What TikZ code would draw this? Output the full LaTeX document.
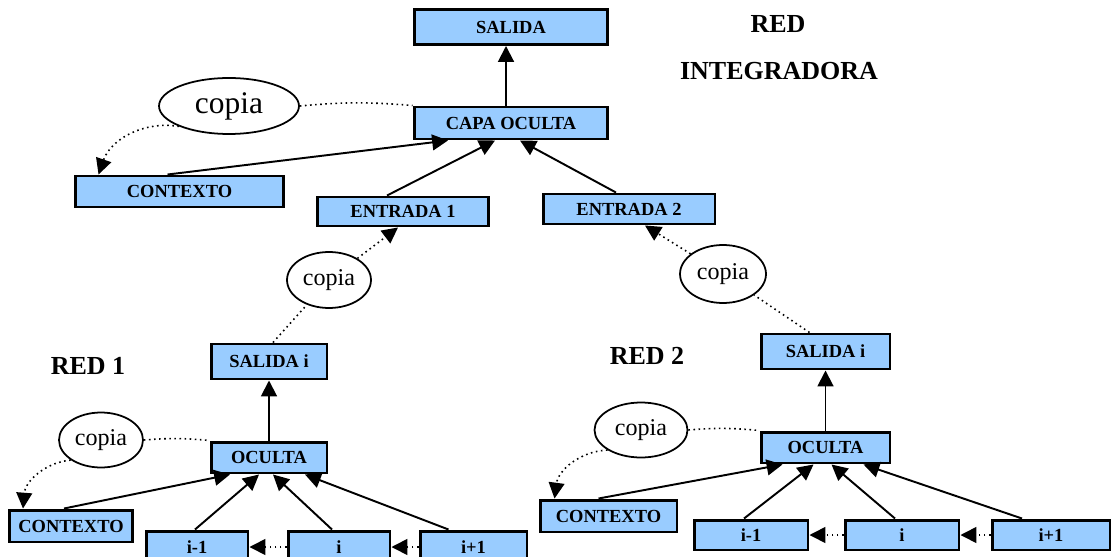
\documentclass[tikz,border=0pt]{standalone}
\usepackage{fontspec}
\setmainfont{Liberation Serif}
\usetikzlibrary{arrows.meta,calc,shapes.geometric}
\definecolor{azul}{HTML}{99CCFF}

\begin{document}
\begin{tikzpicture}[x=0.02cm,y=-0.02cm,line width=1.1pt,>={Triangle[length=9pt,width=9pt]}]

\tikzstyle{capa}=[draw,line width=1.7pt,fill=azul,inner sep=0pt,font=\fontsize{10.5}{12}\selectfont\bfseries]
\tikzstyle{copia}=[draw,ellipse,line width=1pt,inner sep=0pt,font=\fontsize{13.7}{15}\selectfont]
\tikzstyle{rotulo}=[font=\fontsize{14.8}{17}\selectfont\bfseries]
\tikzstyle{copiar}=[dotted,line width=0.9pt]

\useasboundingbox (0,0) rectangle (1111,557);

% red integradora
\node[capa,minimum width=3.88cm,minimum height=0.70cm] (salida) at (511,27) {SALIDA};
\node[capa,minimum width=3.88cm,minimum height=0.64cm] (capa) at (511,123) {CAPA OCULTA};
\node[capa,minimum width=4.18cm,minimum height=0.62cm] (ctx) at (179.5,191.5) {CONTEXTO};
\node[capa,minimum width=3.44cm,minimum height=0.58cm] (ent1) at (403,211.5) {ENTRADA 1};
\node[capa,minimum width=3.44cm,minimum height=0.60cm] (ent2) at (629,209) {ENTRADA 2};
\node[copia,minimum width=2.8cm,minimum height=1.12cm,font=\fontsize{17.9}{20}\selectfont] (cop) at (229,106) {copia};
\node[rotulo] (red) at (778,24) {RED};
\node[rotulo] (integ) at (779,71) {INTEGRADORA};

\draw[->] ([xshift=-0.1cm]capa.north) -- ([xshift=-0.1cm]salida.south);
\draw[->] ($(ctx.north)+(-12,0)$) -- ($(capa.south)+(-63,0)$);
\draw[->] ($(ent1.north)+(-16,0)$) -- ($(capa.south)+(-16,0)$);
\draw[->] ($(ent2.north)+(-13,0)$) -- ($(capa.south)+(9,0)$);
\draw[copiar] (cop.east) to[bend left=5] (capa.north west);
\draw[copiar,->] (cop.south west) to[bend right=40] ($(ctx.north west)+(25,0)$);

% red 1
\node[capa,minimum width=2.32cm,minimum height=0.70cm] (sal1) at (269,361.5) {SALIDA i};
\node[capa,minimum width=2.32cm,minimum height=0.62cm] (ocu1) at (269,457.5) {OCULTA};
\node[capa,minimum width=2.48cm,minimum height=0.64cm] (ctx1) at (71,526) {CONTEXTO};
\node[capa,minimum width=2.04cm,minimum height=0.64cm] (ant1) at (197,547) {i-1};
\node[capa,minimum width=2.04cm,minimum height=0.64cm] (act1) at (339,547) {i};
\node[capa,minimum width=2.14cm,minimum height=0.64cm] (sig1) at (473.5,547) {i+1};
\node[copia,minimum width=1.68cm,minimum height=1.12cm] (copa1) at (329,280) {copia};
\node[copia,minimum width=1.68cm,minimum height=1.10cm] (copb1) at (101,440) {copia};
\node[rotulo] (red1) at (88,366) {RED 1};

\draw[->] (ocu1) -- (sal1);
\draw[->] ($(ctx1.north)+(-7,0)$) -- ($(ocu1.south)+(-39,0)$);
\draw[->] ($(ant1.north)+(-2,0)$) -- ($(ocu1.south)+(-10,0)$);
\draw[->] ($(act1.north)+(-7,0)$) -- ($(ocu1.south)+(4,0)$);
\draw[->] ($(sig1.north)+(-25,0)$) -- ($(ocu1.south)+(36,0)$);
\draw[copiar,->] (act1) -- (ant1);
\draw[copiar,->] (sig1) -- (act1);
\draw[copiar] (copb1.east) to[bend left=5] (ocu1.north west);
\draw[copiar,->] (copb1.south west) to[bend right=40] ($(ctx1.north)+(-48,0)$);
\draw[copiar] ($(sal1.north)+(4,0)$) -- (copa1);
\draw[copiar,->] (copa1) -- ($(ent1.south)+(-5,0)$);

% red 2
\node[capa,minimum width=2.58cm,minimum height=0.70cm] (sal2) at (825.5,351.5) {SALIDA i};
\node[capa,minimum width=2.58cm,minimum height=0.62cm] (ocu2) at (825.5,447.5) {OCULTA};
\node[capa,minimum width=2.74cm,minimum height=0.64cm] (ctx2) at (608.5,516) {CONTEXTO};
\node[capa,minimum width=2.28cm,minimum height=0.60cm] (ant2) at (751,535) {i-1};
\node[capa,minimum width=2.28cm,minimum height=0.60cm] (act2) at (902,535) {i};
\node[capa,minimum width=2.36cm,minimum height=0.60cm] (sig2) at (1051,535) {i+1};
\node[copia,minimum width=1.72cm,minimum height=1.16cm] (copa2) at (723,274) {copia};
\node[copia,minimum width=1.86cm,minimum height=1.10cm] (copb2) at (641,430) {copia};
\node[rotulo] (red2) at (647,356) {RED 2};

\draw[->] (ocu2) -- (sal2);
\draw[->] ($(ctx2.north)+(-10,0)$) -- ($(ocu2.south)+(-43,0)$);
\draw[->] ($(ant2.north)+(-7,0)$) -- ($(ocu2.south)+(-12,0)$);
\draw[->] ($(act2.north)+(-7,0)$) -- ($(ocu2.south)+(6,0)$);
\draw[->] ($(sig2.north)+(-29,0)$) -- ($(ocu2.south)+(38,0)$);
\draw[copiar,->] (act2) -- (ant2);
\draw[copiar,->] (sig2) -- (act2);
\draw[copiar] (copb2.east) to[bend left=5] (ocu2.north west);
\draw[copiar,->] (copb2.south west) to[bend right=40] ($(ctx2.north)+(-54,0)$);
\draw[copiar] ($(sal2.north)+(-16,0)$) -- (copa2);
\draw[copiar,->] (copa2) -- ($(ent2.south)+(16,0)$);
\end{tikzpicture}
\end{document}
